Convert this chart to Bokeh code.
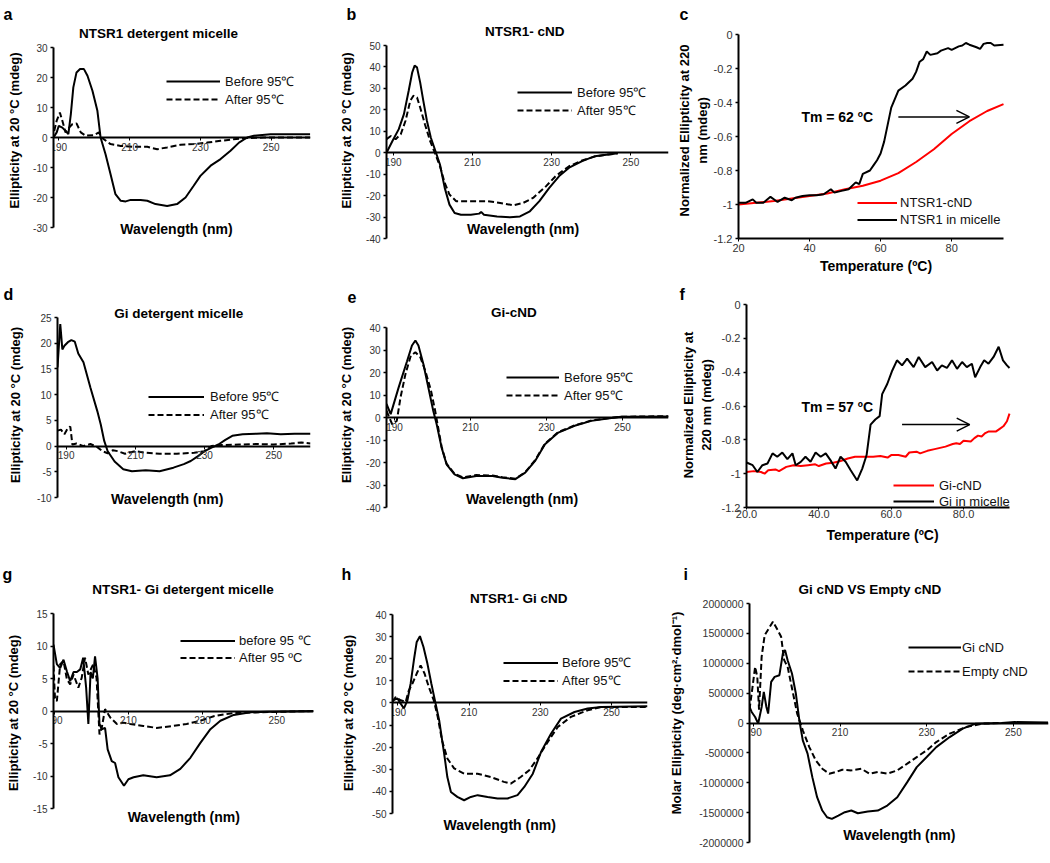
from bokeh.plotting import figure
from bokeh.models import (Range1d, FixedTicker, PrintfTickFormatter, Label, Legend,
                          LegendItem, Arrow, OpenHead)
from bokeh.layouts import column, row
from bokeh.embed import file_html
from bokeh.resources import INLINE

FONT = "Liberation Sans"

# ---------------- data ----------------
# a: NTSR1 detergent micelle
a_before_wl = [188.5, 189.4, 190.0, 191.0, 191.9, 192.7, 193.4, 194.1, 195.0, 196.0, 197.1, 198.1, 199.5, 200.9, 201.8, 203.2, 204.6, 206.0, 207.5, 208.9, 210.3, 213.1, 215.0, 217.3, 220.6, 223.4, 225.8, 228.1, 230.0, 232.9, 235.7, 238.5, 240.9, 243.2, 245.1, 249.8, 261.0]
a_before = [0.0, 1.7, 3.9, 3.3, 2.2, 1.1, 7.8, 16.7, 21.7, 22.8, 22.8, 20.6, 15.6, 8.9, 0.0, -5.6, -12.2, -18.9, -21.1, -21.3, -20.8, -20.8, -21.1, -22.2, -22.8, -22.2, -20.0, -16.1, -12.8, -9.4, -7.2, -4.4, -1.7, 0.0, 0.6, 1.1, 1.1]
a_after_wl = [188.7, 189.4, 190.3, 191.0, 191.9, 192.9, 193.8, 195.0, 196.2, 197.6, 199.9, 201.3, 202.3, 204.6, 207.5, 211.2, 215.0, 217.8, 220.6, 224.4, 228.1, 231.9, 235.7, 239.4, 243.2, 247.9, 261.0]
a_after = [2.2, 5.6, 8.3, 5.6, 1.7, 3.3, 4.4, 4.7, 1.7, 0.6, 0.8, 1.7, -0.2, -2.2, -2.8, -3.1, -3.1, -3.9, -3.3, -2.4, -2.2, -1.7, -1.1, -0.6, -0.2, 0.0, 0.0]

# b: NTSR1-cND
b_before_wl = [188.3, 189.8, 191.4, 192.7, 193.9, 194.8, 195.4, 196.0, 196.8, 197.6, 198.5, 199.5, 200.5, 201.8, 203.0, 204.2, 205.5, 207.1, 209.6, 211.7, 212.2, 212.9, 216.2, 219.5, 222.0, 224.5, 226.9, 229.4, 231.9, 234.4, 237.7, 240.9, 244.3, 246.7]
b_before = [0.0, 5.5, 11.0, 18.0, 28.9, 37.5, 40.6, 39.8, 32.8, 24.2, 14.9, 7.0, 1.6, -5.5, -16.4, -24.2, -28.1, -28.9, -28.9, -28.4, -27.6, -28.9, -29.7, -30.1, -29.7, -27.3, -22.6, -16.4, -10.9, -7.0, -3.9, -1.6, -0.8, -0.3]
b_after_wl = [188.3, 189.4, 190.6, 191.9, 193.1, 194.3, 195.1, 196.0, 196.8, 198.0, 199.3, 200.5, 201.8, 203.0, 204.2, 205.9, 209.6, 213.7, 217.0, 220.3, 222.8, 225.3, 228.6, 231.0, 234.4, 237.7, 240.9, 244.3, 246.7]
b_after = [6.3, 7.8, 6.3, 8.6, 14.9, 24.2, 26.6, 25.8, 21.1, 13.3, 5.5, 0.0, -6.3, -14.1, -19.5, -22.6, -22.6, -22.6, -23.4, -24.5, -23.4, -21.1, -15.6, -10.9, -6.3, -3.6, -1.8, -0.8, -0.3]

# c: NTSR1 melting
c_temp_cnd = [20, 25, 30, 35, 40, 45, 50, 55, 60, 65, 70, 75, 80, 85, 90, 94.6]
c_cnd = [-1.0, -0.99, -0.98, -0.965, -0.95, -0.935, -0.91, -0.89, -0.86, -0.815, -0.75, -0.675, -0.585, -0.51, -0.45, -0.41]
c_temp_mic = [20, 22, 24, 25, 27, 29, 31, 33, 35, 36, 38, 40, 42, 44, 46, 47, 49, 51, 53, 54, 55, 57, 58, 59, 60, 61, 62, 63, 64, 65, 67, 69, 70, 71, 72, 73, 74, 76, 77, 79, 80, 82, 83, 84, 85, 87, 88, 89, 90, 91, 92, 94.6]
c_mic = [-0.99, -0.99, -0.97, -0.99, -0.99, -0.955, -0.985, -0.96, -0.975, -0.96, -0.95, -0.945, -0.945, -0.94, -0.91, -0.93, -0.92, -0.91, -0.87, -0.88, -0.82, -0.80, -0.77, -0.74, -0.70, -0.63, -0.53, -0.43, -0.38, -0.33, -0.30, -0.26, -0.22, -0.16, -0.145, -0.10, -0.12, -0.11, -0.095, -0.08, -0.09, -0.07, -0.065, -0.05, -0.06, -0.075, -0.085, -0.055, -0.05, -0.05, -0.065, -0.06]

# d: Gi detergent micelle
d_before_wl = [187.5, 188.3, 188.9, 189.5, 190.5, 191.5, 192.5, 193.5, 195.0, 197.0, 199.0, 200.0, 201.0, 202.0, 204.0, 206.5, 209.0, 213.0, 217.0, 221.0, 224.0, 226.0, 228.0, 230.0, 232.0, 234.0, 236.0, 238.0, 241.0, 245.0, 248.0, 252.0, 256.0, 260.6]
d_before = [15.3, 23.7, 18.8, 19.5, 20.2, 20.6, 20.3, 18.0, 16.3, 11.4, 6.8, 4.2, 1.0, -1.0, -3.0, -4.5, -4.9, -4.7, -4.9, -4.2, -3.5, -2.9, -2.0, -1.0, -0.3, 0.3, 1.2, 2.0, 2.3, 2.4, 2.5, 2.3, 2.4, 2.4]
d_after_wl = [187.5, 188.5, 189.5, 190.5, 191.2, 191.8, 193.0, 195.0, 197.0, 199.0, 200.5, 202.0, 203.5, 205.0, 207.0, 210.0, 213.0, 217.0, 222.0, 227.0, 230.0, 232.0, 235.0, 240.0, 245.0, 250.0, 255.0, 258.0, 260.6]
d_after = [3.0, 3.2, 2.3, 3.5, 3.8, 0.3, 0.5, 0.0, 0.4, -0.2, -1.0, -1.4, -0.8, -1.0, -1.5, -1.0, -1.3, -1.5, -1.5, -1.3, -1.0, 0.0, 0.2, 0.3, 0.4, 0.3, 0.5, 0.7, 0.5]

# e: Gi-cND
e_before_wl = [187.9, 189.0, 191.1, 193.3, 194.6, 195.5, 196.3, 197.6, 198.9, 200.2, 201.1, 202.4, 203.7, 205.8, 208.0, 211.5, 215.8, 218.4, 221.8, 224.4, 227.0, 229.6, 233.1, 237.4, 241.8, 246.1, 249.6, 262.1]
e_before = [6.0, 1.5, 13.4, 25.0, 32.0, 34.2, 32.0, 23.8, 13.4, 3.0, -3.0, -13.4, -20.8, -25.3, -27.0, -26.0, -26.0, -26.8, -27.4, -24.5, -19.3, -11.9, -6.7, -3.7, -1.5, -0.4, 0.3, 0.5]
e_after_wl = [187.9, 189.4, 190.6, 191.6, 192.9, 194.3, 195.5, 196.8, 198.1, 199.6, 200.7, 202.4, 203.7, 205.8, 208.0, 211.5, 215.8, 218.4, 221.8, 224.4, 227.0, 229.6, 233.1, 237.4, 241.8, 246.1, 249.6, 262.1]
e_after = [3.0, -3.0, -1.5, 9.0, 19.4, 27.5, 29.0, 26.8, 20.8, 12.0, 3.0, -13.0, -20.5, -25.0, -26.6, -25.6, -25.8, -26.5, -27.2, -24.3, -19.0, -11.6, -6.5, -3.5, -1.3, -0.3, 0.3, 0.6]

# f: Gi melting
f_temp_cnd = [20, 22, 24, 25, 26, 28, 29, 31, 33, 35, 37, 39, 40, 42, 44, 46, 48, 50, 52, 55, 57, 59, 60, 62, 64, 65, 67, 68, 70, 72, 75, 77, 78, 79, 80, 82, 83, 84, 85, 86, 87, 89, 90, 91, 92, 92.7]
f_cnd = [-0.99, -0.985, -0.99, -1.0, -0.98, -0.975, -0.985, -0.96, -0.95, -0.955, -0.95, -0.945, -0.955, -0.94, -0.935, -0.925, -0.91, -0.9, -0.9, -0.9, -0.895, -0.905, -0.89, -0.89, -0.9, -0.875, -0.87, -0.88, -0.865, -0.855, -0.84, -0.825, -0.82, -0.825, -0.805, -0.81, -0.79, -0.775, -0.78, -0.76, -0.75, -0.75, -0.735, -0.72, -0.69, -0.645]
f_temp_mic = [20, 21.7, 23, 24.4, 25.8, 27.2, 28.5, 29.9, 31.3, 32.7, 33.6, 35, 36.3, 37.7, 39.1, 40.5, 41.9, 43.2, 44.6, 46, 47.4, 48.8, 50.6, 52, 53.2, 54.3, 55.6, 56.8, 57.5, 58.9, 60.3, 61.6, 63, 64.4, 66.2, 67.6, 69.4, 71.3, 72.7, 74, 75.4, 76.8, 78.2, 79.6, 80.9, 82.3, 83.2, 84.6, 85.7, 86.9, 88.3, 89.7, 90.9, 92, 92.7]
f_mic = [-0.934, -0.95, -0.99, -0.95, -0.94, -0.88, -0.9, -0.875, -0.914, -0.88, -0.95, -0.93, -0.9, -0.93, -0.875, -0.9, -0.88, -0.92, -0.97, -0.9, -0.93, -0.98, -1.04, -0.97, -0.89, -0.71, -0.68, -0.66, -0.53, -0.47, -0.39, -0.33, -0.36, -0.32, -0.37, -0.31, -0.37, -0.34, -0.39, -0.36, -0.375, -0.33, -0.38, -0.34, -0.37, -0.35, -0.43, -0.37, -0.33, -0.35, -0.31, -0.25, -0.33, -0.36, -0.375]

# g: NTSR1-Gi detergent micelle
g_before_wl = [189.8, 190.7, 191.6, 192.5, 193.4, 194.3, 195.2, 196.1, 197.0, 197.8, 198.6, 199.2, 199.8, 200.4, 201.0, 201.7, 202.2, 202.8, 203.7, 204.4, 205.5, 206.4, 207.3, 208.8, 210.0, 211.4, 214.0, 217.6, 221.2, 224.0, 226.7, 229.4, 232.1, 234.8, 238.4, 242.9, 247.4, 259.9]
g_before = [10.2, 7.2, 6.6, 7.9, 6.1, 4.6, 6.0, 6.0, 6.4, 8.2, 3.6, -2.0, 6.0, 5.0, 8.4, 5.0, -2.0, -2.8, -2.6, -5.9, -7.7, -8.0, -10.2, -11.5, -10.5, -10.2, -9.9, -10.2, -9.9, -8.9, -7.2, -4.9, -2.8, -1.5, -0.6, -0.2, -0.1, 0.0]
g_after_wl = [189.8, 190.2, 190.7, 191.6, 192.5, 193.4, 194.3, 195.2, 196.5, 197.4, 198.3, 199.2, 200.5, 201.4, 202.2, 202.8, 203.7, 205.1, 206.9, 208.7, 210.5, 214.0, 217.6, 222.1, 225.7, 229.4, 233.0, 238.4, 259.9]
g_after = [7.0, 2.0, 1.5, 7.2, 7.7, 4.9, 4.1, 5.6, 3.6, 5.1, 8.2, 5.6, 7.2, 5.1, -3.6, -2.6, 0.3, -1.0, -2.0, -1.8, -2.0, -2.3, -2.6, -2.3, -2.0, -1.5, -0.8, -0.3, 0.0]

# h: NTSR1-Gi cND
h_before_wl = [188.5, 189.9, 190.8, 191.7, 192.7, 193.6, 194.5, 195.3, 196.2, 197.2, 198.3, 199.4, 200.6, 201.6, 203.0, 203.9, 204.9, 206.7, 208.6, 210.5, 212.4, 215.2, 218.0, 220.8, 223.6, 225.5, 227.9, 230.2, 233.0, 235.8, 239.6, 243.3, 247.1, 260.1]
h_before = [1.2, 2.0, -0.3, -2.5, 1.2, 8.8, 19.3, 27.6, 30.2, 25.3, 17.8, 8.8, -0.3, -7.8, -22.9, -33.5, -40.3, -42.5, -44.0, -42.5, -41.7, -42.5, -43.2, -43.2, -41.7, -38.0, -32.0, -22.2, -13.9, -7.1, -4.1, -2.5, -1.8, -1.5]
h_after_wl = [188.5, 189.4, 190.8, 192.2, 193.1, 194.1, 195.3, 196.4, 197.5, 198.7, 200.1, 201.2, 202.4, 203.9, 205.8, 208.6, 212.4, 216.1, 219.8, 221.7, 224.5, 226.9, 229.2, 232.1, 234.9, 238.6, 243.3, 247.1, 260.1]
h_after = [0.5, 2.7, 1.2, 0.5, 5.7, 8.8, 13.3, 17.0, 13.3, 7.2, 1.2, -6.3, -16.9, -25.1, -29.6, -32.0, -32.0, -33.5, -35.7, -36.5, -33.5, -30.4, -25.1, -17.6, -10.9, -6.3, -3.3, -1.8, -1.8]

# i: Gi cND vs Empty cND
i_gi_wl = [189.1, 189.6, 190.4, 191.1, 191.9, 192.4, 193.0, 193.4, 194.1, 194.9, 196.0, 196.8, 197.3, 197.9, 198.9, 199.8, 200.6, 201.4, 202.5, 203.6, 204.7, 205.9, 207.0, 208.1, 209.6, 211.1, 212.6, 214.1, 216.4, 218.7, 220.9, 223.2, 225.5, 227.7, 230.0, 232.2, 235.3, 238.3, 241.3, 247.3, 250.3, 258.0]
i_gi = [268000, 185000, 100000, -10000, 268000, 520000, 268000, 158000, 688000, 772000, 800000, 1164000, 1220000, 1050000, 829000, 493000, 45000, -290000, -513000, -906000, -1242000, -1465000, -1577000, -1604000, -1549000, -1493000, -1465000, -1510000, -1480000, -1465000, -1381000, -1242000, -990000, -738000, -570000, -403000, -235000, -94000, -11000, 0, 15000, 10000]
i_empty_wl = [189.1, 189.6, 190.4, 190.9, 191.3, 191.9, 192.6, 193.8, 194.5, 195.6, 196.4, 197.1, 197.9, 199.0, 200.1, 201.4, 202.9, 204.4, 205.9, 207.5, 209.0, 210.5, 212.6, 214.9, 216.8, 218.7, 220.9, 223.2, 225.5, 227.7, 230.0, 232.2, 235.3, 239.1, 242.9, 247.3, 258.0]
i_empty = [224000, 493000, 940000, 772000, 224000, 1107000, 1470000, 1611000, 1695000, 1555000, 1443000, 1052000, 940000, 549000, 158000, -122000, -403000, -626000, -765000, -849000, -821000, -782000, -793000, -765000, -849000, -821000, -849000, -793000, -681000, -570000, -458000, -319000, -178000, -67000, -11000, 0, 0]

# tick values
wl_ticks = [190, 210, 230, 250]
temp_ticks = [20, 40, 60, 80]
a_yticks = [-30, -20, -10, 0, 10, 20, 30]
b_yticks = [-40, -30, -20, -10, 0, 10, 20, 30, 40, 50]
norm_yticks = [-1.2, -1.0, -0.8, -0.6, -0.4, -0.2, 0]
d_yticks = [-10, -5, 0, 5, 10, 15, 20, 25]
e_yticks = [-40, -30, -20, -10, 0, 10, 20, 30, 40]
g_yticks = [-15, -10, -5, 0, 5, 10, 15]
h_yticks = [-50, -40, -30, -20, -10, 0, 10, 20, 30, 40]
i_yticks = [-2000000, -1500000, -1000000, -500000, 0, 500000, 1000000, 1500000, 2000000]

# annotations (Tm arrows)
c_arrow = (65.0, 85.0, -0.485)
f_arrow = (63.0, 81.7, -0.71)

# ---------------- layout geometry (page pixels) ----------------
# lr: page x of the axis ends, fr: page x of the right edge of the drawing area,
# tb: drawing area top/bottom (shared in a row), ax: page y of the axis ends
ROW1 = (22, 238)
ROW2 = (302, 507)
ROW3 = (582, 843)
G = {
    'a': dict(origin=(0, 0), size=(336, 280), lr=(53, 310), tb=ROW1, xr=(188.5, 261.1), ax=((30, 47), (-30, 227))),
    'b': dict(origin=(336, 0), size=(336, 280), lr=(381, 668), tb=ROW1, xr=(188.3, 259.5), ax=((50, 45), (-40, 238))),
    'c': dict(origin=(672, 0), size=(378, 280), lr=(738, 1003), fr=1013, tb=ROW1, xr=(20, 94.6), ax=((0, 34), (-1.2, 238))),
    'd': dict(origin=(0, 280), size=(336, 280), lr=(57, 310), tb=ROW2, xr=(187.5, 260.6), ax=((25, 317), (-10, 497))),
    'e': dict(origin=(336, 280), size=(336, 280), lr=(383, 668), tb=ROW2, xr=(187.9, 262.1), ax=((40, 327), (-40, 507))),
    'f': dict(origin=(672, 280), size=(378, 280), lr=(746, 1009), fr=1018, tb=ROW2, xr=(20, 92.7), ax=((0, 304), (-1.2, 507))),
    'g': dict(origin=(0, 560), size=(336, 303), lr=(53, 313), tb=ROW3, xr=(189.8, 259.9), ax=((15, 613), (-15, 808))),
    'h': dict(origin=(336, 560), size=(330, 303), lr=(392, 647), tb=ROW3, xr=(188.5, 260.1), ax=((40, 614), (-50, 813))),
    'i': dict(origin=(666, 560), size=(384, 303), lr=(743, 1048), tb=ROW3, xr=(189.1, 258.1), ax=((2000000, 603), (-2000000, 842))),
}
for g in G.values():
    (y1, p1), (y0, p0) = g['ax']
    k = (y1 - y0) / (p0 - p1)
    T, B = g['tb']
    g['yr'] = (y0 - (B - p0) * k, y1 + (p1 - T) * k)
    g['ybounds'] = (y0, y1)
    L, R = g['lr']
    FR = g.get('fr', R)
    x0, x1 = g['xr']
    kx = (x1 - x0) / (R - L)
    g['xbounds'] = (x0, x1)
    g['xr'] = (x0, x1 + (FR - R) * kx)
    g['frame'] = (L, FR, T, B)


def at(g, px, py):
    L, R, T, B = g['frame']
    x0, x1 = g['xr']
    y0, y1 = g['yr']
    return x0 + (px - L) / (R - L) * (x1 - x0), y1 - (py - T) / (B - T) * (y1 - y0)


def make(g, letter, letter_x, yticks, yfmt, ylabel, als, ytick_size="10px"):
    ox, oy = g['origin']
    w, h = g['size']
    L, R, T, B = g['frame']
    p = figure(width=w, height=h, x_range=Range1d(*g['xr']), y_range=Range1d(*g['yr']),
               output_backend="svg", toolbar_location=None, title=letter,
               min_border_left=L - ox, min_border_right=ox + w - R,
               min_border_top=T - oy, min_border_bottom=oy + h - B)
    p.title.align = "left"
    p.title.offset = letter_x - L
    p.title.standoff = 0
    p.title.text_font = FONT
    p.title.text_font_size = "16px"
    p.title.text_font_style = "bold"
    p.title.text_color = "black"
    p.outline_line_color = None
    p.grid.visible = False
    p.background_fill_color = "white"
    p.border_fill_color = "white"
    ax = p.yaxis[0]
    ax.bounds = g['ybounds']
    ax.ticker = FixedTicker(ticks=yticks)
    ax.formatter = PrintfTickFormatter(format=yfmt)
    ax.axis_line_width = 2
    ax.axis_line_color = "black"
    ax.major_tick_out = 3
    ax.major_tick_in = 0
    ax.major_tick_line_width = 1.5
    ax.minor_tick_line_color = None
    ax.major_label_text_font = FONT
    ax.major_label_text_font_size = ytick_size
    ax.major_label_text_color = "#333333"
    ax.major_label_standoff = 3
    ax.axis_label = ylabel
    ax.axis_label_text_font = FONT
    ax.axis_label_text_font_style = "bold"
    ax.axis_label_text_font_size = "13px"
    ax.axis_label_text_color = "black"
    ax.axis_label_standoff = als
    xa = p.xaxis[0]
    xa.bounds = g['xbounds']
    xa.axis_line_width = 2
    xa.axis_line_color = "black"
    xa.minor_tick_line_color = None
    xa.major_tick_in = 0
    xa.major_label_text_font = FONT
    xa.major_label_text_color = "#333333"
    return p


def spectrum_x(p):
    xa = p.xaxis[0]
    xa.ticker = FixedTicker(ticks=wl_ticks)
    xa.formatter = PrintfTickFormatter(format="%d")
    xa.fixed_location = 0
    xa.major_tick_out = 3
    xa.major_label_standoff = 2
    xa.major_label_text_font_size = "10px"


def temp_x(p, fmt, tick_out, standoff, label_standoff):
    xa = p.xaxis[0]
    xa.ticker = FixedTicker(ticks=temp_ticks)
    xa.formatter = PrintfTickFormatter(format=fmt)
    xa.major_tick_out = tick_out
    xa.major_label_standoff = standoff
    xa.major_label_text_font_size = "11px"
    xa.axis_label = "Temperature (ºC)"
    xa.axis_label_text_font = FONT
    xa.axis_label_text_font_style = "bold"
    xa.axis_label_text_font_size = "14px"
    xa.axis_label_text_color = "black"
    xa.axis_label_standoff = label_standoff


def text(p, g, px, py, s, size, bold=True):
    x, y = at(g, px, py)
    p.add_layout(Label(x=x, y=y, text=s, text_font=FONT, text_font_size=f"{size}px",
                       text_font_style="bold" if bold else "normal",
                       text_align="center", text_baseline="middle", text_color="black"))


def legend(p, g, items, lx, cy1, pitch, gw, ls):
    # rows cannot be closer than ~16 px, so keep the middle of the rows in place
    L, R, T, B = g['frame']
    n = len(items)
    rowh = max(int(round(pitch)), 16)
    mid = cy1 + (n - 1) * pitch / 2
    top = mid - n * rowh / 2
    bottom = top + n * rowh
    leg = Legend(items=[LegendItem(label=lab, renderers=[r]) for lab, r in items],
                 location=(int(round(lx - L)), int(round(B - bottom))), orientation="vertical",
                 glyph_width=int(round(gw)), glyph_height=rowh, label_height=rowh,
                 label_standoff=int(round(ls)),
                 spacing=0, padding=0, margin=0,
                 border_line_color=None, background_fill_alpha=0,
                 label_text_font=FONT, label_text_font_size="13px", label_text_color="#111111",
                 label_text_line_height=min(1.2, rowh / 15.0))
    p.add_layout(leg)


def solid(p, x, y, color="black"):
    return p.line(x, y, line_color=color, line_width=2)


def dashed(p, x, y):
    return p.line(x, y, line_color="black", line_width=2, line_dash="6 3")


def tm_arrow(p, arr):
    p.add_layout(Arrow(end=OpenHead(size=13, line_width=1.5, line_color="black"),
                       x_start=arr[0], y_start=arr[2], x_end=arr[1], y_end=arr[2],
                       line_width=1.5, line_color="black"))


YL = "Ellipticity at 20 °C (mdeg)"

# ---- a ----
g = G['a']
pa = make(g, "a", 3, a_yticks, "%d", YL, 8)
spectrum_x(pa)
r1 = solid(pa, a_before_wl, a_before)
r2 = dashed(pa, a_after_wl, a_after)
legend(pa, g, [("Before 95℃", r1), ("After 95℃", r2)], 166, 84, 15, 54, 5)
text(pa, g, 158, 33, "NTSR1 detergent micelle", 13.5)
text(pa, g, 176, 228, "Wavelength (nm)", 14)

# ---- b ----
g = G['b']
pb = make(g, "b", 341, b_yticks, "%d", YL, 9)
spectrum_x(pb)
r1 = solid(pb, b_before_wl, b_before)
r2 = dashed(pb, b_after_wl, b_after)
legend(pb, g, [("Before 95℃", r1), ("After 95℃", r2)], 512, 95.7, 14.3, 55, 5)
text(pb, g, 521.7, 30.5, "NTSR1- cND", 13.5)
text(pb, g, 520, 228.5, "Wavelength (nm)", 14)

# ---- c ----
g = G['c']
pc = make(g, "c", 679, norm_yticks, "%g", "Normalized Ellipticity at 220\nnm (mdeg)", 1, "11px")
temp_x(pc, "%d", 3, 2, 3)
r1 = solid(pc, c_temp_cnd, c_cnd, "#ff0000")
r2 = solid(pc, c_temp_mic, c_mic)
legend(pc, g, [("NTSR1-cND", r1), ("NTSR1 in micelle", r2)], 857, 202.7, 17.3, 40, 3)
text(pc, g, 836.7, 116.7, "Tm = 62 ºC", 14)
tm_arrow(pc, c_arrow)

# ---- d ----
g = G['d']
pd_ = make(g, "d", 3, d_yticks, "%d", YL, 11)
spectrum_x(pd_)
r1 = solid(pd_, d_before_wl, d_before)
r2 = dashed(pd_, d_after_wl, d_after)
legend(pd_, g, [("Before 95℃", r1), ("After 95℃", r2)], 148, 397.3, 16.7, 56, 6)
text(pd_, g, 178.3, 313.3, "Gi detergent micelle", 13.5)
text(pd_, g, 166.7, 498.5, "Wavelength (nm)", 14)

# ---- e ----
g = G['e']
pe = make(g, "e", 344, e_yticks, "%d", YL, 9)
spectrum_x(pe)
r1 = solid(pe, e_before_wl, e_before)
r2 = dashed(pe, e_after_wl, e_after)
legend(pe, g, [("Before 95℃", r1), ("After 95℃", r2)], 503.3, 380, 16, 53, 5)
text(pe, g, 511.7, 311.7, "Gi-cND", 13.5)
text(pe, g, 520, 498.3, "Wavelength (nm)", 14)

# ---- f ----
g = G['f']
pf = make(g, "f", 679, norm_yticks, "%g", "Normalized Ellipticity at\n220 nm (mdeg)", 5, "11px")
temp_x(pf, "%.1f", 2, 0, 6)
r1 = solid(pf, f_temp_cnd, f_cnd, "#ff0000")
r2 = solid(pf, f_temp_mic, f_mic)
legend(pf, g, [("Gi-cND", r1), ("Gi in micelle", r2)], 892.7, 487.3, 11, 41, 5)
text(pf, g, 836.7, 406, "Tm = 57 ºC", 14)
tm_arrow(pf, f_arrow)

# ---- g ----
g = G['g']
pg = make(g, "g", 2, g_yticks, "%d", YL, 9)
spectrum_x(pg)
r1 = solid(pg, g_before_wl, g_before)
r2 = dashed(pg, g_after_wl, g_after)
legend(pg, g, [("before 95 ℃", r1), ("After 95 ºC", r2)], 180, 641, 16.7, 55, 4)
text(pg, g, 182.5, 589, "NTSR1- Gi detergent micelle", 13.5)
text(pg, g, 183.3, 816.7, "Wavelength (nm)", 14)

# ---- h ----
g = G['h']
ph = make(g, "h", 341, h_yticks, "%d", YL, 13)
spectrum_x(ph)
r1 = solid(ph, h_before_wl, h_before)
r2 = dashed(ph, h_after_wl, h_after)
legend(ph, g, [("Before 95℃", r1), ("After 95℃", r2)], 503.3, 664, 16.7, 55, 4)
text(ph, g, 518.3, 598.3, "NTSR1- Gi cND", 13.5)
text(ph, g, 499.2, 824, "Wavelength (nm)", 14)

# ---- i ----
g = G['i']
pi = make(g, "i", 677, i_yticks, "%d", "Molar Ellipticity (deg·cm²·dmol⁻¹)", 12, "10.5px")
spectrum_x(pi)
r1 = solid(pi, i_gi_wl, i_gi)
r2 = dashed(pi, i_empty_wl, i_empty)
legend(pi, g, [("Gi cND", r1), ("Empty cND", r2)], 901.7, 647.3, 24.4, 53, 1)
text(pi, g, 865.8, 589, "Gi cND VS Empty cND", 13.5)
text(pi, g, 895.8, 834, "Wavelength (nm)", 14)

layout = column(row(pa, pb, pc), row(pd_, pe, pf), row(pg, ph, pi))
open("out.html", "w").write(file_html(layout, INLINE))
